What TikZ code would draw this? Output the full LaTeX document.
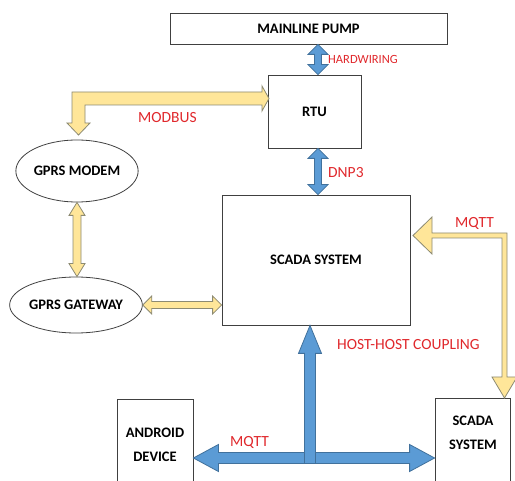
\documentclass[tikz,border=0pt]{standalone}
\usepackage{fontspec}
\setmainfont{Carlito}
\usetikzlibrary{calc,shapes.geometric}

\definecolor{pipeblue}{HTML}{5B9BD5}
\definecolor{pipeblueline}{HTML}{41719C}
\definecolor{pipeyellow}{HTML}{FFE699}
\definecolor{pipeyellowline}{HTML}{8C8A72}
\definecolor{protored}{HTML}{E0282C}

\tikzset{
  unitbox/.style={draw=black!75, line width=0.8pt, inner sep=0pt,
    font=\bfseries\fontsize{14.5}{24}\selectfont, align=center},
  unitoval/.style={unitbox, ellipse},
  proto/.style={text=protored, font=\fontsize{15.5}{17}\selectfont, anchor=west, inner sep=0pt},
  bluepipe/.style={fill=pipeblue, draw=pipeblueline, line width=0.8pt},
  yellowpipe/.style={fill=pipeyellow, draw=pipeyellowline, line width=0.8pt},
  % fat double arrow: half shaft, half head, head length
  fatboth/.style n args={3}{to path={
    let \p1=(\tikztostart), \p2=(\tikztotarget),
        \p3=($(\p1)!1pt!90:(\p2)$), \p4=($(\p3)-(\p1)$) in
    (\p1) -- ($(\p1)!#3pt!(\p2)+#2*(\p4)$) -- ($(\p1)!#3pt!(\p2)+#1*(\p4)$)
    -- ($(\p2)!#3pt!(\p1)+#1*(\p4)$) -- ($(\p2)!#3pt!(\p1)+#2*(\p4)$) -- (\p2)
    -- ($(\p2)!#3pt!(\p1)-#2*(\p4)$) -- ($(\p2)!#3pt!(\p1)-#1*(\p4)$)
    -- ($(\p1)!#3pt!(\p2)-#1*(\p4)$) -- ($(\p1)!#3pt!(\p2)-#2*(\p4)$) -- cycle}},
  % fat single arrow, tip at the target
  fatone/.style n args={3}{to path={
    let \p1=(\tikztostart), \p2=(\tikztotarget),
        \p3=($(\p1)!1pt!90:(\p2)$), \p4=($(\p3)-(\p1)$) in
    ($(\p1)+#1*(\p4)$) -- ($(\p2)!#3pt!(\p1)+#1*(\p4)$) -- ($(\p2)!#3pt!(\p1)+#2*(\p4)$) -- (\p2)
    -- ($(\p2)!#3pt!(\p1)-#2*(\p4)$) -- ($(\p2)!#3pt!(\p1)-#1*(\p4)$) -- ($(\p1)-#1*(\p4)$) -- cycle}},
}

\begin{document}
\begin{tikzpicture}[x=1pt,y=-1pt]
  \useasboundingbox (0,0) rectangle (515,481);

  %units
  \node[unitbox, minimum width=277, minimum height=31] (pump) at (308.5,28.5) {MAINLINE PUMP};
  \node[unitbox, minimum width=93, minimum height=73] (rtu) at (314.5,111.5) {RTU};
  \node[unitbox, minimum width=188, minimum height=130] (scada) at (316,260) {SCADA SYSTEM};
  \node[unitoval, minimum width=94, minimum height=62] (modem) at (77,171) {GPRS MODEM};
  \node[unitoval, minimum width=122, minimum height=56] (gateway) at (76,305) {GPRS GATEWAY};
  \node[unitbox, minimum width=76, minimum height=92] (android) at (155,445) {ANDROID\\DEVICE};
  \node[unitbox, minimum width=75, minimum height=94] (rscada) at (472.5,445) {};
  \node[unitbox, draw=none] (rscadatext) at (473,432.5) {SCADA\\SYSTEM};

  %links
  \coordinate (hw) at (318,0);
  \coordinate (hub) at (310,458);
  \draw[bluepipe] (pump.south -| hw) to[fatboth={3.5}{10}{10}] (rtu.north -| hw);
  \draw[bluepipe] (rtu.south -| hw) to[fatboth={3.5}{10}{10}] (scada.north -| hw);
  \draw[yellowpipe] (modem.south) to[fatboth={4}{8}{13}] (modem.south |- gateway.north);
  \draw[yellowpipe] (gateway.east) to[fatboth={3.5}{9}{9}] (scada.west |- gateway.east);
  \draw[bluepipe] (hub -| android.east) to[fatboth={5.5}{13.5}{25}] (hub -| rscada.west);
  \draw[bluepipe] ($(hub)+(0,5.5)$) to[fatone={5.5}{11.5}{28}] (hub |- scada.south);

  %bent links
  \draw[yellowpipe] (72,92) -- (262,92) -- (262,86) -- (269,98.5) -- (262,111) -- (262,105)
    -- (85,105) -- (85,123) -- (90,123) -- (78.5,135) -- (67,123) -- (72,123) -- cycle;
  \draw[yellowpipe] (413,235.5) -- (432,217) -- (432,233) -- (507,233) -- (507,377) -- (517,377)
    -- (504.5,398) -- (492,377) -- (502,377) -- (502,238) -- (432,238) -- (432,254) -- cycle;

  %protocols
  \node[proto, font=\fontsize{12.5}{14}\selectfont] (hwlabel) at (328,59) {HARDWIRING};
  \node[proto] (modbuslabel) at (138,118) {MODBUS};
  \node[proto] (dnplabel) at (328,173) {DNP3};
  \node[proto] (mqttright) at (455,223) {MQTT};
  \node[proto] (couplinglabel) at (337,345) {HOST-HOST COUPLING};
  \node[proto] (mqttlow) at (230,442) {MQTT};
\end{tikzpicture}
\end{document}
